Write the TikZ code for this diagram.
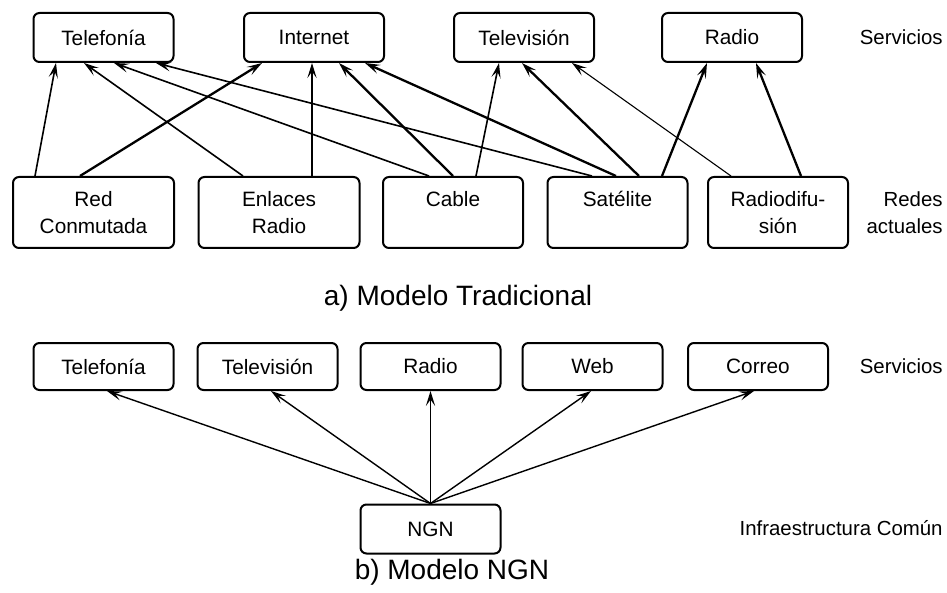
\documentclass[tikz,border=0pt]{standalone}
\usepackage{fontspec}
\setmainfont{Liberation Sans}
\usetikzlibrary{arrows.meta,calc}

\begin{document}
\begin{tikzpicture}[x=0.5pt,y=-0.5pt,
    srv/.style={draw,line width=1pt,rounded corners=3pt,minimum width=70pt,
      minimum height=24.5pt,inner sep=0pt,font=\fontsize{10.4}{13.5}\selectfont},
    net/.style={srv,minimum height=35.5pt,align=center},
    lbl/.style={anchor=east,align=right,inner sep=0pt,font=\fontsize{10.2}{13.5}\selectfont},
    ttl/.style={inner sep=0pt,font=\fontsize{14}{17}\selectfont},
    arr/.style={-{Stealth[length=7.5pt,width=4.6pt,inset=3.2pt]},line width=0.8pt},
    fat/.style={arr,line width=1.15pt},
    slim/.style={arr,line width=0.55pt}]
  \useasboundingbox (0,0) rectangle (947,593);

  % a) modelo tradicional
  \node[srv] (tel) at (103.5,37.5) {Telefonía};
  \node[srv] (inet) at (314,37.5) {Internet};
  \node[srv] (tv) at (524,37.5) {Televisión};
  \node[srv] (rad) at (732,37.5) {Radio};
  \node[lbl] (srvA) at (943,37) {Servicios};

  \node[net,minimum width=80.5pt] (rc) at (93.5,212.5) {Red\\Conmutada};
  \node[net,minimum width=80.5pt] (er) at (279,212.5) {Enlaces\\Radio};
  \node[net] (cab) at (453,212.5) {Cable\\\mbox{}};
  \node[net] (sat) at (617.5,212.5) {Satélite\\\mbox{}};
  \node[net] (rdif) at (778,212.5) {Radiodifu-\\sión};
  \node[lbl] (redes) at (943,213) {Redes\\actuales};

  \draw[arr] ($(rc.north west)+(23,0)$) -- ($(tel.south west)+(23.5,0)$);
  \draw[fat] ($(rc.north west)+(68,0)$) -- ($(inet.south west)+(19,0)$);
  \draw[arr] ($(er.north west)+(45.5,0)$) -- ($(tel.south west)+(51.5,0)$);
  \draw[arr] ($(er.north west)+(114.5,0)$) -- ($(inet.south west)+(69,0)$);
  \draw[arr] ($(cab.north west)+(47,0)$) -- ($(tel.south west)+(81.5,0)$);
  \draw[fat] ($(cab.north west)+(71,0)$) -- ($(inet.south west)+(96,0)$);
  \draw[arr] ($(cab.north west)+(94,0)$) -- ($(tv.south west)+(46,0)$);
  \draw[arr] ($(sat.north west)+(45.5,0)$) -- ($(tel.south west)+(123.5,0)$);
  \draw[fat] ($(sat.north west)+(69.5,0)$) -- ($(inet.south west)+(122,0)$);
  \draw[fat] ($(sat.north west)+(92.5,0)$) -- ($(tv.south west)+(69,0)$);
  \draw[fat] ($(sat.north west)+(115.5,0)$) -- ($(rad.south west)+(46,0)$);
  \draw[slim] ($(rdif.north west)+(24,0)$) -- ($(tv.south west)+(119,0)$);
  \draw[fat] ($(rdif.north west)+(94,0)$) -- ($(rad.south west)+(95,0)$);

  \node[ttl] (titA) at (458,298) {a) Modelo Tradicional};

  % b) modelo NGN
  \node[srv,minimum height=23.5pt] (tel2) at (103.5,366.5) {Telefonía};
  \node[srv,minimum height=23.5pt] (tv2) at (267.5,366.5) {Televisión};
  \node[srv,minimum height=23.5pt] (rad2) at (430.5,366.5) {Radio};
  \node[srv,minimum height=23.5pt] (web) at (592.5,366.5) {Web};
  \node[srv,minimum height=23.5pt] (mail) at (758,366.5) {Correo};
  \node[lbl] (srvB) at (943,366) {Servicios};

  \node[srv] (ngn) at (430.5,529) {NGN};
  \node[lbl] (infra) at (943,528) {Infraestructura Común};

  \foreach \s/\dx in {tel2/3.5,tv2/3.5,rad2/0,web/-1.5,mail/-4}
    \draw[arr,line width=0.7pt] (ngn.north) -- ($(\s.south)+(\dx,0)$);

  \node[ttl] (titB) at (452,572) {b) Modelo NGN};
\end{tikzpicture}
\end{document}
